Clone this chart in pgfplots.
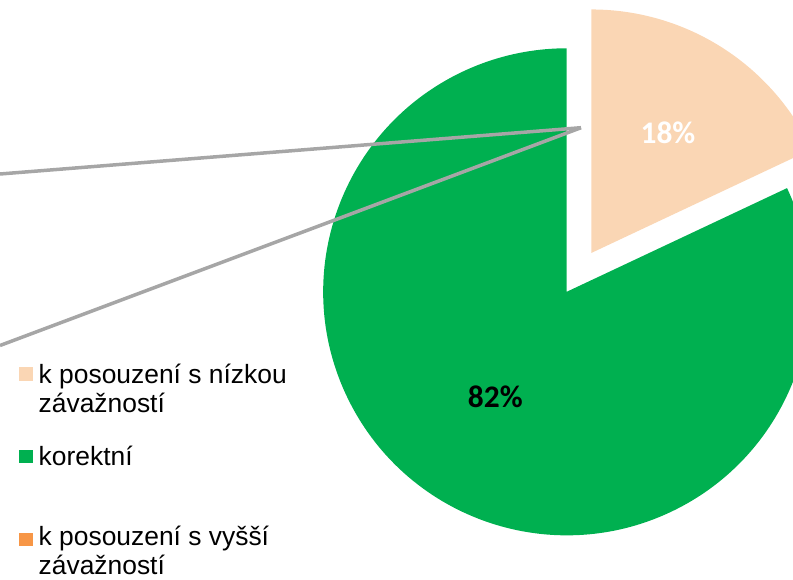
\documentclass[border=0pt]{standalone}
\usepackage{fontspec}
\setmainfont{Liberation Sans}
\newfontfamily\carlito{Carlito}
\usepackage{pgfplots}
\usepackage{pgfplotstable}
\pgfplotsset{compat=1.18}

\definecolor{korekt}{HTML}{00B050}
\definecolor{nizka}{HTML}{FAD6B4}
\definecolor{vyssi}{HTML}{F79646}
\definecolor{spoj}{HTML}{A6A6A6}

% podil v procentech
\pgfplotstableread{
podil
18
82
}\pie

\begin{document}
\begin{tikzpicture}
\pgfplotstablegetelem{0}{podil}\of\pie \let\pNizka\pgfplotsretval
\pgfplotstablegetelem{1}{podil}\of\pie \let\pKorekt\pgfplotsretval
\pgfmathsetmacro\aEnd{90-3.6*\pNizka}
\pgfmathsetmacro\aMid{90-1.8*\pNizka}
\pgfmathsetmacro\ex{566.7+46*cos(\aMid)}
\pgfmathsetmacro\ey{291.8-46*sin(\aMid)}
\def\R{243.5bp}
\begin{axis}[
  width=793bp, height=580bp, scale only axis,
  xmin=0, xmax=793, ymin=0, ymax=580, y dir=reverse,
  hide axis, clip=true
]
\coordinate (bl) at (axis cs:0,580);
\coordinate (tr) at (axis cs:793,0);
% vysece
\fill[korekt] (axis cs:566.7,291.8) -- ++(\aEnd:\R)
  arc[start angle=\aEnd, end angle=-270, radius=\R] -- cycle;
\fill[nizka] (axis cs:\ex,\ey) -- ++(90:\R)
  arc[start angle=90, end angle=\aEnd, radius=\R] -- cycle;
% spojnice
\draw[draw=spoj, line width=3.5bp, line cap=butt] (axis cs:0,174) -- (axis cs:581,127.7);
\draw[draw=spoj, line width=3.5bp, line cap=butt] (axis cs:0,345.5) -- (axis cs:581,127.7);
% popisky
\node[white, font=\carlito\bfseries\fontsize{31.5}{35}\selectfont, inner sep=0]
  at (axis cs:668,133) {\pNizka\%};
\node[black, font=\carlito\bfseries\fontsize{31.5}{35}\selectfont, inner sep=0]
  at (axis cs:495.3,397) {\pKorekt\%};
% legenda
\fill[nizka] (axis cs:19,367.3) rectangle (axis cs:33,380.7);
\fill[korekt] (axis cs:19,450) rectangle (axis cs:33,463.3);
\fill[vyssi] (axis cs:19,532.7) rectangle (axis cs:33,546);
\begin{scope}[every node/.style={anchor=base west, inner sep=0, font=\fontsize{26.5}{30}\selectfont}]
\node at (axis cs:38.5,383.3) {k posouzení s nízkou};
\node at (axis cs:38.5,412.7) {závažností};
\node at (axis cs:38.5,465.5) {korektní};
\node at (axis cs:38.5,545.5) {k posouzení s vyšší};
\node at (axis cs:38.5,574.5) {závažností};
\end{scope}
\end{axis}
\pgfresetboundingbox
\path (bl) rectangle (tr);
\end{tikzpicture}
\end{document}
